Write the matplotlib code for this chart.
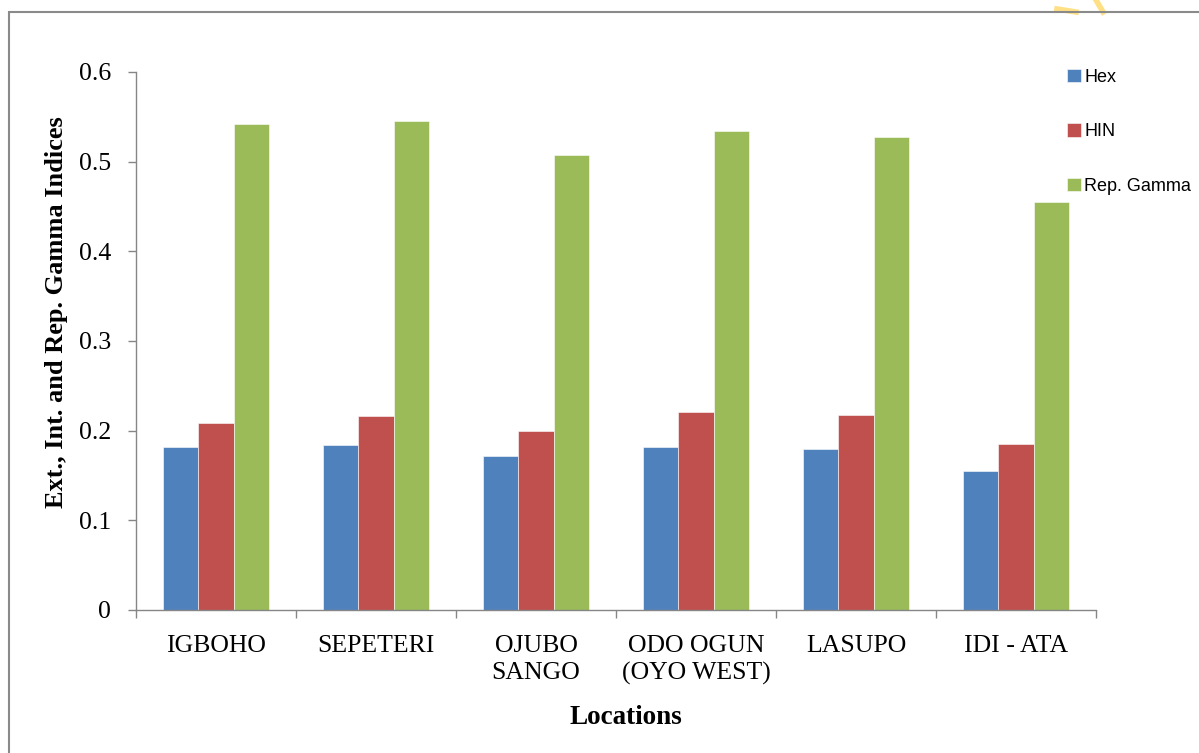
import numpy as np
import matplotlib
matplotlib.use("Agg")
import matplotlib.pyplot as plt
from matplotlib.patches import Rectangle
from matplotlib.lines import Line2D

# indices per location
locations = ["IGBOHO", "SEPETERI", "OJUBO\nSANGO", "ODO OGUN\n(OYO WEST)", "LASUPO", "IDI - ATA"]
hex_vals = [0.182, 0.184, 0.172, 0.182, 0.180, 0.155]
hin_vals = [0.209, 0.216, 0.200, 0.221, 0.218, 0.185]
gamma_vals = [0.542, 0.545, 0.507, 0.534, 0.527, 0.455]
series_names = ["Hex", "HIN", "Rep. Gamma"]
colors = ["#4F81BD", "#C0504D", "#9BBB59"]
yticks = [0, 0.1, 0.2, 0.3, 0.4, 0.5, 0.6]
ytick_labels = ["0", "0.1", "0.2", "0.3", "0.4", "0.5", "0.6"]

W, H = 1199, 753
fig = plt.figure(figsize=(W / 100, H / 100), dpi=100)
ax = fig.add_axes([136 / W, 1 - 610 / H, 960 / W, 538 / H])

serif = "Liberation Serif"
x = np.arange(len(locations))
w = 1 / 4.5  # gap width 150%
for i, vals in enumerate([hex_vals, hin_vals, gamma_vals]):
    ax.bar(x + (i - 1) * w, vals, width=w, color=colors[i], edgecolor="white",
           linewidth=0.4, label=series_names[i], zorder=2)

ax.set_xlim(-0.5, len(locations) - 0.5)
ax.set_ylim(0, 0.6)

for s in ["top", "right"]:
    ax.spines[s].set_visible(False)
for s in ["left", "bottom"]:
    ax.spines[s].set_color("#868686")
    ax.spines[s].set_linewidth(1.0)

ax.set_yticks(yticks)
ax.set_yticklabels(ytick_labels, fontfamily=serif, fontsize=18.5)
ax.tick_params(axis="y", direction="out", length=6, width=1, color="#868686", pad=12)

# labels at centres, tick marks at the category boundaries
ax.set_xticks(x)
ax.set_xticklabels(locations, fontfamily=serif, fontsize=18.5, linespacing=1.3)
ax.tick_params(axis="x", which="major", length=0, pad=18)
ax.set_xticks(np.arange(len(locations) + 1) - 0.5, minor=True)
ax.tick_params(axis="x", which="minor", direction="out", length=6, width=1, color="#868686")

fig.text(626 / W, 1 - 718 / H, "Locations", fontfamily=serif, fontweight="bold",
         fontsize=19.5, ha="center", va="center")
fig.text(57 / W, 1 - 312 / H, "Ext., Int. and Rep. Gamma Indices", fontfamily=serif,
         fontweight="bold", fontsize=19, rotation=90, ha="center", va="center")

fig.legend(loc="upper left", bbox_to_anchor=(1067 / W, 1 - 69 / H), frameon=False,
           prop={"family": "Liberation Sans", "size": 13}, handlelength=0.75,
           handleheight=0.75, handletextpad=0.2, labelspacing=2.07, borderpad=0,
           borderaxespad=0)

# outer chart frame
fig.patches.append(Rectangle((9 / W, -0.1), 1.2, 1.1 - 12 / H, transform=fig.transFigure,
                             fill=False, edgecolor="#8a8a8a", linewidth=1.5))
# faint yellow mark at the top corner
fig.lines.append(Line2D([1057 / W, 1076 / W], [1 - 9 / H, 1 - 12 / H], transform=fig.transFigure,
                        color="#FFD966", linewidth=4, alpha=0.8, zorder=0))
fig.lines.append(Line2D([1096 / W, 1103 / W], [1.0, 1 - 12 / H], transform=fig.transFigure,
                        color="#FFD966", linewidth=4, alpha=0.8, zorder=0))

fig.savefig("out.png", dpi=100)
